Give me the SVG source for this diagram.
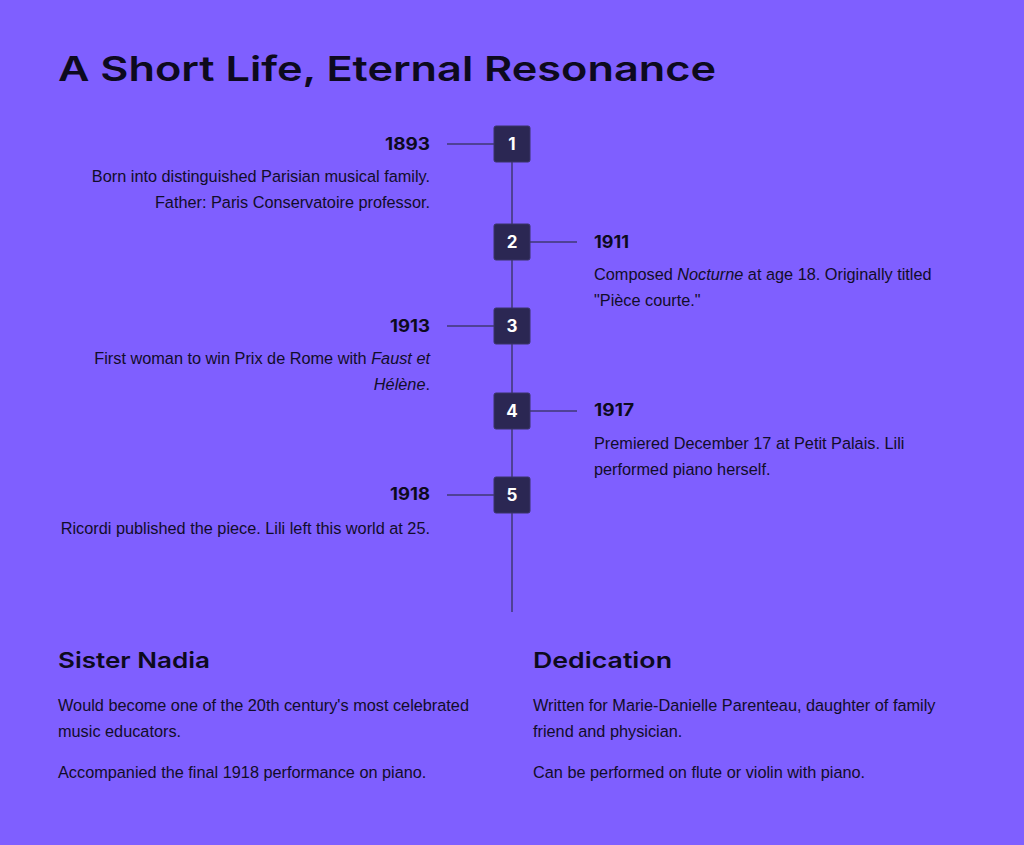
<svg xmlns="http://www.w3.org/2000/svg" width="1024" height="845" viewBox="0 0 1024 845">
<style>
.title{font-family:Inter,"Liberation Sans",sans-serif;font-weight:600;font-size:34px;fill:#0d0a1e}
.year{font-family:Inter,"Liberation Sans",sans-serif;font-weight:700;font-size:17px;fill:#0d0a1e}
.desc{font-family:"Liberation Sans",Arial,sans-serif;font-size:16.3px;fill:#120d2a}
.h2{font-family:Inter,"Liberation Sans",sans-serif;font-weight:600;font-size:22px;fill:#0d0a1e}
.box{fill:#2b2753;stroke:#3a3468;stroke-width:1}
.num{font-family:Inter,"Liberation Sans",sans-serif;font-weight:700;font-size:17px;fill:#ffffff;text-anchor:middle}
.ln{stroke:#3f3775;stroke-width:1.5;fill:none}
.r{text-anchor:end}
</style>
<rect width="1024" height="845" fill="#7f5fff"/>
<text class="title" x="58" y="81" textLength="658" lengthAdjust="spacingAndGlyphs">A Short Life, Eternal Resonance</text>
<g id="connectors">
<line class="ln" x1="512" y1="144" x2="512" y2="612"/>
<line class="ln" x1="447" y1="144" x2="494" y2="144"/>
<line class="ln" x1="530" y1="242" x2="577" y2="242"/>
<line class="ln" x1="447" y1="326" x2="494" y2="326"/>
<line class="ln" x1="530" y1="411" x2="577" y2="411"/>
<line class="ln" x1="447" y1="495" x2="494" y2="495"/>
</g>
<g id="node1">
<rect class="box" x="494" y="126" width="36" height="36" rx="2"/>
<text class="num" x="512" y="150">1</text>
<text class="year r" x="430" y="150" textLength="45" lengthAdjust="spacingAndGlyphs">1893</text>
<text class="desc r" x="430" y="182">Born into distinguished Parisian musical family.</text>
<text class="desc r" x="430" y="208">Father: Paris Conservatoire professor.</text>
</g>
<g id="node2">
<rect class="box" x="494" y="224" width="36" height="36" rx="2"/>
<text class="num" x="512" y="248">2</text>
<text class="year" x="594" y="248" textLength="35" lengthAdjust="spacingAndGlyphs">1911</text>
<text class="desc" x="594" y="280">Composed <tspan font-style="italic">Nocturne</tspan> at age 18. Originally titled</text>
<text class="desc" x="594" y="306">"Pièce courte."</text>
</g>
<g id="node3">
<rect class="box" x="494" y="308" width="36" height="36" rx="2"/>
<text class="num" x="512" y="332">3</text>
<text class="year r" x="430" y="332" textLength="40" lengthAdjust="spacingAndGlyphs">1913</text>
<text class="desc r" x="430" y="364">First woman to win Prix de Rome with <tspan font-style="italic">Faust et</tspan></text>
<text class="desc r" x="430" y="390" font-style="italic">Hélène<tspan font-style="normal">.</tspan></text>
</g>
<g id="node4">
<rect class="box" x="494" y="393" width="36" height="36" rx="2"/>
<text class="num" x="512" y="417">4</text>
<text class="year" x="594" y="416" textLength="40" lengthAdjust="spacingAndGlyphs">1917</text>
<text class="desc" x="594" y="449">Premiered December 17 at Petit Palais. Lili</text>
<text class="desc" x="594" y="475">performed piano herself.</text>
</g>
<g id="node5">
<rect class="box" x="494" y="477" width="36" height="36" rx="2"/>
<text class="num" x="512" y="501">5</text>
<text class="year r" x="430" y="500" textLength="40" lengthAdjust="spacingAndGlyphs">1918</text>
<text class="desc r" x="430" y="534">Ricordi published the piece. Lili left this world at 25.</text>
</g>
<g id="sister-nadia">
<text class="h2" x="58" y="668" textLength="152" lengthAdjust="spacingAndGlyphs">Sister Nadia</text>
<text class="desc" x="58" y="711">Would become one of the 20th century's most celebrated</text>
<text class="desc" x="58" y="737">music educators.</text>
<text class="desc" x="58" y="778">Accompanied the final 1918 performance on piano.</text>
</g>
<g id="dedication">
<text class="h2" x="533" y="668" textLength="139" lengthAdjust="spacingAndGlyphs">Dedication</text>
<text class="desc" x="533" y="711">Written for Marie-Danielle Parenteau, daughter of family</text>
<text class="desc" x="533" y="737">friend and physician.</text>
<text class="desc" x="533" y="778">Can be performed on flute or violin with piano.</text>
</g>
</svg>
